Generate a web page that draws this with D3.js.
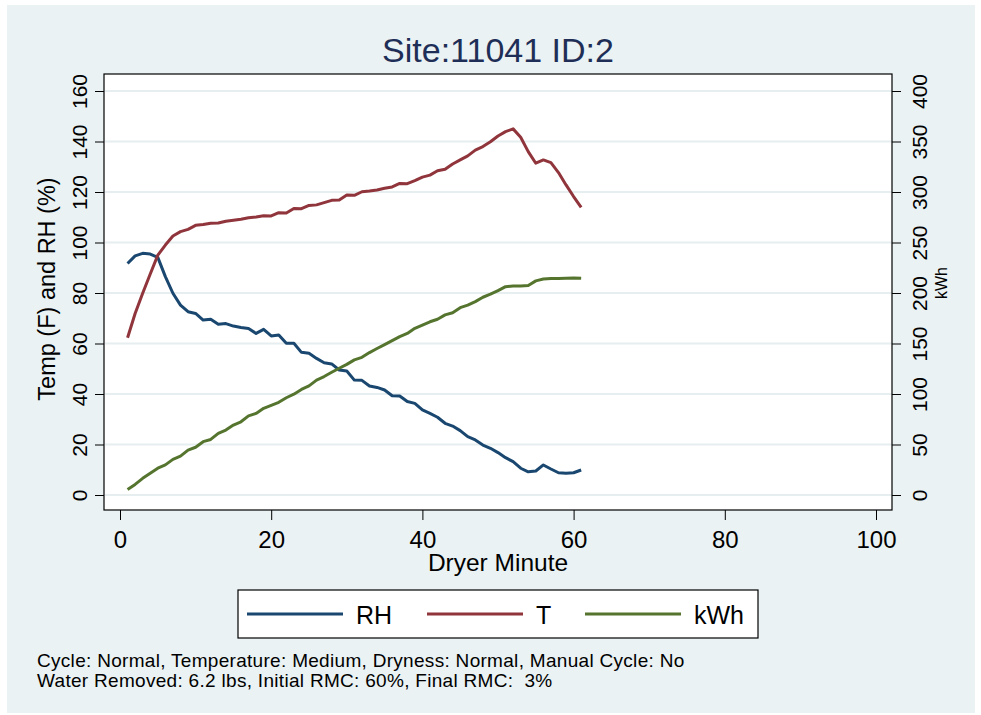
<!DOCTYPE html>
<html>
<head>
<meta charset="utf-8">
<script src="https://cdn.jsdelivr.net/npm/d3@7"></script>
<style>
  body { margin: 0; background: #ffffff; }
  svg { display: block; font-family: "Liberation Sans", Arial, sans-serif; }
  .note { white-space: pre; }
</style>
</head>
<body>
<svg id="chart" width="981" height="715"></svg>
<script>
// dryer minute 1..61
const minutes = d3.range(1, 62);
// relative humidity (%), left axis
const rhValues = [91.7, 94.7, 95.7, 95.4, 94.1, 86.5, 79.9, 75.2, 72.6, 71.9,
  69.3, 69.6, 67.6, 67.9, 66.9, 66.3, 65.9, 64.0, 65.6, 63.0,
  63.4, 60.1, 60.1, 56.5, 56.1, 54.1, 52.4, 51.9, 49.5, 49.1,
  45.5, 45.4, 43.2, 42.6, 41.6, 39.3, 39.2, 37.0, 36.3, 33.7,
  32.3, 30.8, 28.4, 27.3, 25.5, 23.1, 21.8, 19.8, 18.5, 16.8,
  14.8, 13.2, 10.6, 9.2, 9.5, 11.9, 10.3, 8.8, 8.6, 8.8, 9.9];
// temperature (F), left axis
const tValues = [62.3, 71.9, 79.9, 87.5, 95.0, 99.0, 102.6, 104.3, 105.2, 106.8,
  107.1, 107.6, 107.7, 108.4, 108.8, 109.2, 109.8, 110.1, 110.6, 110.5,
  111.8, 111.7, 113.5, 113.4, 114.7, 114.9, 115.8, 116.7, 116.8, 118.8,
  118.7, 120.1, 120.4, 120.8, 121.5, 122.0, 123.4, 123.3, 124.5, 125.9,
  126.7, 128.4, 129.0, 131.1, 132.7, 134.3, 136.6, 138.0, 139.9, 142.2,
  143.9, 145.0, 141.7, 136.0, 131.4, 132.7, 131.6, 127.7, 122.8, 118.2, 113.9];
// energy, right axis
const kwhValues = [5.5, 10.5, 16.5, 21.5, 26.5, 29.8, 35.3, 38.5, 44.5, 47.3,
  52.8, 55.0, 61.0, 64.3, 69.3, 72.5, 78.3, 80.8, 85.8, 88.8,
  91.8, 96.3, 99.8, 104.5, 108.0, 113.8, 117.3, 121.5, 125.5, 129.3,
  133.8, 136.3, 141.0, 145.0, 148.8, 152.8, 156.8, 160.0, 165.0, 168.3,
  171.5, 174.0, 178.3, 180.5, 185.5, 188.0, 191.5, 195.8, 198.8, 202.3,
  206.3, 207.0, 207.0, 207.5, 212.0, 213.8, 214.3, 214.3, 214.5, 214.8, 214.5];

const xTicks = [0, 20, 40, 60, 80, 100];
const yTicks = [0, 20, 40, 60, 80, 100, 120, 140, 160];
const y2Ticks = [0, 50, 100, 150, 200, 250, 300, 350, 400];

const seriesNames = ["RH", "T", "kWh"];
const seriesColors = ["#1a476f", "#90353b", "#55752f"];

const titleText = "Site:11041 ID:2";
const noteLines = [
  "Cycle: Normal, Temperature: Medium, Dryness: Normal, Manual Cycle: No",
  "Water Removed: 6.2 lbs, Initial RMC: 60%, Final RMC:  3%"
];

const svg = d3.select("#chart");
const bg = "#eaf2f3";

// frame of plot region
const plotL = 104, plotR = 892, plotT = 74, plotB = 510;

svg.append("rect")
  .attr("x", 7).attr("y", 5)
  .attr("width", 968).attr("height", 708)
  .attr("fill", bg);

svg.append("rect")
  .attr("x", plotL).attr("y", plotT)
  .attr("width", plotR - plotL).attr("height", plotB - plotT)
  .attr("fill", "#ffffff");

const x = d3.scaleLinear().domain([0, 100]).range([120, 876]);
const y = d3.scaleLinear().domain([0, 160]).range([495, 91]);
const y2 = d3.scaleLinear().domain([0, 400]).range([495, 91]);

// grid
svg.append("g").selectAll("line").data(yTicks).enter().append("line")
  .attr("x1", plotL + 1).attr("x2", plotR)
  .attr("y1", d => y(d)).attr("y2", d => y(d))
  .attr("stroke", "#e6eef0")
  .attr("stroke-width", 2);

// lines
const line = d3.line()
  .x((d, i) => x(minutes[i]))
  .y(d => d);

const rows = [
  rhValues.map(v => y(v)),
  tValues.map(v => y(v)),
  kwhValues.map(v => y2(v))
];

svg.append("g").selectAll("path").data(rows).enter().append("path")
  .attr("d", d => line(d))
  .attr("fill", "none")
  .attr("stroke", (d, i) => seriesColors[i])
  .attr("stroke-width", 3)
  .attr("stroke-linejoin", "round");

svg.append("rect")
  .attr("x", plotL).attr("y", plotT)
  .attr("width", plotR - plotL).attr("height", plotB - plotT)
  .attr("fill", "none")
  .attr("stroke", "#000000")
  .attr("stroke-width", 1.2);

// left axis
const yAxis = svg.append("g")
  .attr("transform", "translate(" + plotL + ",0)")
  .call(d3.axisLeft(y).tickValues(yTicks).tickSize(9));
yAxis.select(".domain").remove();
yAxis.selectAll("line").attr("stroke", "#000000");
yAxis.selectAll("text")
  .attr("x", null).attr("dy", null)
  .attr("text-anchor", "middle")
  .attr("transform", "translate(-17,0) rotate(-90)")
  .attr("font-size", 21)
  .attr("font-family", null)
  .attr("fill", "#000000");

// right axis
const y2Axis = svg.append("g")
  .attr("transform", "translate(" + plotR + ",0)")
  .call(d3.axisRight(y2).tickValues(y2Ticks).tickSize(9));
y2Axis.select(".domain").remove();
y2Axis.selectAll("line").attr("stroke", "#000000");
y2Axis.selectAll("text")
  .attr("x", null).attr("dy", null)
  .attr("text-anchor", "middle")
  .attr("transform", "translate(35,0) rotate(-90)")
  .attr("font-size", 21)
  .attr("font-family", null)
  .attr("fill", "#000000");

// bottom axis
const xAxis = svg.append("g")
  .attr("transform", "translate(0," + plotB + ")")
  .call(d3.axisBottom(x).tickValues(xTicks).tickSize(10));
xAxis.select(".domain").remove();
xAxis.selectAll("line").attr("stroke", "#000000");
xAxis.selectAll("text")
  .attr("y", 38).attr("dy", null)
  .attr("font-size", 24)
  .attr("font-family", null)
  .attr("fill", "#000000");

// titles
svg.append("text")
  .attr("x", 498).attr("y", 62)
  .attr("text-anchor", "middle")
  .attr("font-size", 34)
  .attr("fill", "#1e2e56")
  .text(titleText);

svg.append("text")
  .attr("x", 498).attr("y", 571)
  .attr("text-anchor", "middle")
  .attr("font-size", 24.5)
  .text("Dryer Minute");

svg.append("text")
  .attr("transform", "translate(55,289) rotate(-90)")
  .attr("text-anchor", "middle")
  .attr("font-size", 23.5)
  .text("Temp (F) and RH (%)");

svg.append("text")
  .attr("transform", "translate(947,283) rotate(-90)")
  .attr("text-anchor", "middle")
  .attr("font-size", 16)
  .text("kWh");

// legend
const legend = svg.append("g");
legend.append("rect")
  .attr("x", 238).attr("y", 590)
  .attr("width", 520).attr("height", 48)
  .attr("fill", "#ffffff")
  .attr("stroke", "#000000")
  .attr("stroke-width", 1.2);

const legX = [247, 427, 585];
const items = legend.selectAll("g.item").data(seriesNames).enter().append("g")
  .attr("class", "item")
  .attr("transform", (d, i) => "translate(" + legX[i] + ",614)");
items.append("line")
  .attr("x1", 0).attr("x2", 96)
  .attr("y1", 0).attr("y2", 0)
  .attr("stroke", (d, i) => seriesColors[i])
  .attr("stroke-width", 3);
items.append("text")
  .attr("x", 109).attr("y", 10)
  .attr("font-size", 25)
  .text(d => d);

// note
svg.append("g").selectAll("text").data(noteLines).enter().append("text")
  .attr("class", "note")
  .attr("x", 37).attr("y", (d, i) => 667 + i * 19.5)
  .attr("font-size", 19)
  .attr("letter-spacing", 0.3)
  .text(d => d);
</script>
</body>
</html>
